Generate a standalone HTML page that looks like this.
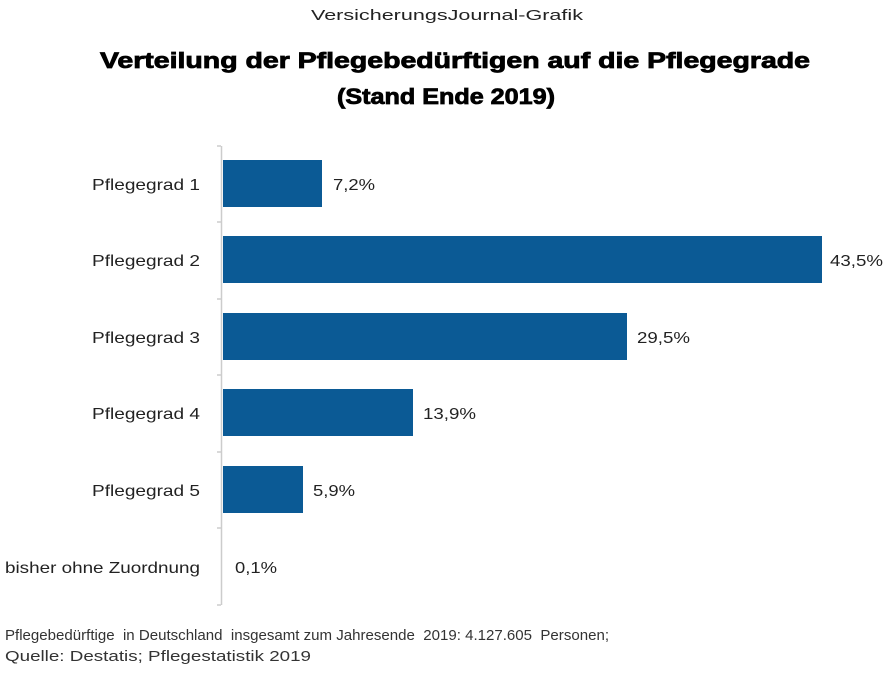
<!DOCTYPE html>
<html><head><meta charset="utf-8"><style>
body{margin:0;background:#fff;}
svg{display:block;font-family:"Liberation Sans",Arial,sans-serif;}
</style></head><body>
<svg width="895" height="678" viewBox="0 0 895 678">
<rect width="895" height="678" fill="#fff"/>
<text x="311" y="20" font-size="15" fill="#222" textLength="272" lengthAdjust="spacingAndGlyphs">VersicherungsJournal-Grafik</text>
<text x="100" y="68" font-size="22" font-weight="bold" fill="#000" stroke="#000" stroke-width="0.8" textLength="710" lengthAdjust="spacingAndGlyphs">Verteilung der Pflegebedürftigen auf die Pflegegrade</text>
<text x="337" y="104" font-size="22" font-weight="bold" fill="#000" stroke="#000" stroke-width="0.8" textLength="218" lengthAdjust="spacingAndGlyphs">(Stand Ende 2019)</text>
<line x1="221.5" y1="146" x2="221.5" y2="605" stroke="#ccc" stroke-width="1.5"/>
<g stroke="#ccc" stroke-width="1.5">
<line x1="217" y1="146" x2="221" y2="146"/><line x1="217" y1="222" x2="221" y2="222"/><line x1="217" y1="299" x2="221" y2="299"/><line x1="217" y1="375" x2="221" y2="375"/><line x1="217" y1="452" x2="221" y2="452"/><line x1="217" y1="528" x2="221" y2="528"/><line x1="217" y1="605" x2="221" y2="605"/>
</g>
<g fill="#0b5a95">
<rect x="223" y="160" width="99" height="47"/>
<rect x="223" y="236" width="599" height="47"/>
<rect x="223" y="313" width="404" height="47"/>
<rect x="223" y="389" width="190" height="47"/>
<rect x="223" y="466" width="80" height="47"/>
</g>
<g font-size="16" fill="#222">
<text x="92" y="190" textLength="108" lengthAdjust="spacingAndGlyphs">Pflegegrad 1</text>
<text x="92" y="266" textLength="108" lengthAdjust="spacingAndGlyphs">Pflegegrad 2</text>
<text x="92" y="343" textLength="108" lengthAdjust="spacingAndGlyphs">Pflegegrad 3</text>
<text x="92" y="419" textLength="108" lengthAdjust="spacingAndGlyphs">Pflegegrad 4</text>
<text x="92" y="496" textLength="108" lengthAdjust="spacingAndGlyphs">Pflegegrad 5</text>
<text x="5" y="573" textLength="195" lengthAdjust="spacingAndGlyphs">bisher ohne Zuordnung</text>
</g>
<g font-size="16" fill="#222">
<text x="333" y="190" textLength="42" lengthAdjust="spacingAndGlyphs">7,2%</text>
<text x="830" y="266" textLength="53" lengthAdjust="spacingAndGlyphs">43,5%</text>
<text x="637" y="343" textLength="53" lengthAdjust="spacingAndGlyphs">29,5%</text>
<text x="423" y="419" textLength="53" lengthAdjust="spacingAndGlyphs">13,9%</text>
<text x="313" y="496" textLength="42" lengthAdjust="spacingAndGlyphs">5,9%</text>
<text x="235" y="573" textLength="42" lengthAdjust="spacingAndGlyphs">0,1%</text>
</g>
<text x="5" y="640" font-size="15" fill="#333" xml:space="preserve" textLength="604" lengthAdjust="spacingAndGlyphs">Pflegebedürftige  in Deutschland  insgesamt zum Jahresende  2019: 4.127.605  Personen;</text>
<text x="5" y="661" font-size="15" fill="#333" textLength="306" lengthAdjust="spacingAndGlyphs">Quelle: Destatis; Pflegestatistik 2019</text>
</svg>
</body></html>
